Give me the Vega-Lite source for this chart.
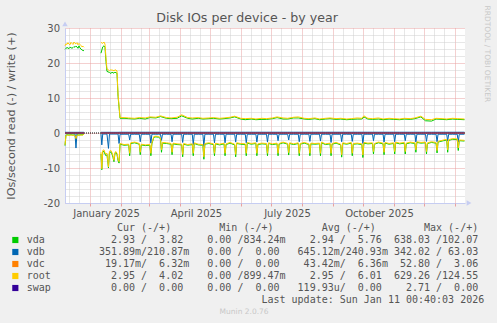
{
"$schema": "https://vega.github.io/schema/vega-lite/v6.json",
"background": "#F0F0F0",
"padding": {"left": 4, "top": 5, "right": 10, "bottom": 10},
"config": {"view": {"stroke": null}, "font": "DejaVu Sans"},
"title": {"text": "Disk IOs per device - by year", "anchor": "middle", "frame": "bounds", "offset": -29.3, "baseline": "alphabetic", "font": "DejaVu Sans", "fontSize": 12.6, "fontWeight": "normal", "color": "#555555"},
"spacing": 4,
"vconcat": [
{"spacing": 0, "hconcat": [
{"width": 1, "height": 1, "data": {"values": [{"v": 0}]}, "mark": {"type": "text", "text": ""}},
{"width": 400, "height": 175,
"view": {"fill": "#FFFFFF"},
"layer": [
{"data": {"values": [{"v": 0}]}, "mark": {"type": "rule", "color": "#000000", "strokeDash": [1, 1], "strokeWidth": 1}, "encoding": {"y": {"datum": 0, "type": "quantitative", "axis": null}}},
{"data": {"values": [
{"t":"2024-12-07T00:40","s":1,"rw":24.9,"aw":23.9,"rr":-3.4,"ar":-3.6,"br":-0.1,"bw":0.2,"cr":-0.04,"cw":0.01},
{"t":"2024-12-08T00:00","s":1,"rw":25.5,"aw":24.2,"rr":-0.7,"ar":-0.6,"br":-0.1,"bw":0.2},
{"t":"2024-12-09T00:00","s":1,"rw":25.3,"aw":24.4,"rr":-0.6,"ar":-0.5,"br":-0.1,"bw":0.2},
{"t":"2024-12-10T00:00","s":1,"rw":25.8,"aw":24.3,"rr":-0.6,"ar":-0.5,"br":-0.1,"bw":0.2},
{"t":"2024-12-11T00:00","s":1,"rw":25.4,"aw":24.1,"rr":-0.7,"ar":-0.6,"br":-0.1,"bw":0.2},
{"t":"2024-12-12T00:00","s":1,"rw":25.2,"aw":24.5,"rr":-0.6,"ar":-0.5,"br":-0.1,"bw":0.2},
{"t":"2024-12-13T00:00","s":1,"rw":25.9,"aw":24.4,"rr":-0.6,"ar":-0.5,"br":-0.1,"bw":0.2},
{"t":"2024-12-14T00:00","s":1,"rw":25.6,"aw":24.2,"rr":-0.6,"ar":-0.5,"br":-0.1,"bw":0.2},
{"t":"2024-12-15T00:00","s":1,"rw":25.3,"aw":24.4,"rr":-0.7,"ar":-0.6,"br":-0.1,"bw":0.2},
{"t":"2024-12-16T00:00","s":1,"rw":26.0,"aw":24.7,"rr":-0.6,"ar":-0.5,"br":-0.1,"bw":0.2},
{"t":"2024-12-17T00:00","s":1,"rw":25.6,"aw":24.5,"rr":-0.7,"ar":-0.6,"br":-0.1,"bw":0.2},
{"t":"2024-12-18T00:00","s":1,"rw":25.5,"aw":24.8,"rr":-1.6,"ar":-1.8,"br":-4.3,"bw":0.2},
{"t":"2024-12-19T00:00","s":1,"rw":25.8,"aw":24.6,"rr":-0.6,"ar":-0.5,"br":-0.1,"bw":0.2},
{"t":"2024-12-20T00:00","s":1,"rw":25.2,"aw":24.2,"rr":-0.6,"ar":-0.5,"br":-0.1,"bw":0.2},
{"t":"2024-12-21T00:00","s":1,"rw":25.6,"aw":24.9,"rr":-0.7,"ar":-0.6,"br":-0.1,"bw":0.2},
{"t":"2024-12-22T00:00","s":1,"rw":25.3,"aw":24.3,"rr":-0.6,"ar":-0.5,"br":-0.1,"bw":0.2},
{"t":"2024-12-23T00:00","s":1,"rw":25.0,"aw":24.0,"rr":-0.6,"ar":-0.5,"br":-0.1,"bw":0.2},
{"t":"2024-12-24T00:00","s":1,"rw":24.6,"aw":23.7,"rr":-0.6,"ar":-0.5,"br":-0.1,"bw":0.2},
{"t":"2024-12-25T00:00","s":1,"rw":24.8,"aw":23.6,"rr":-0.6,"ar":-0.5,"br":-0.1,"bw":0.2},
{"t":"2024-12-26T00:00","s":1,"rw":24.5,"aw":23.5,"rr":-0.3,"ar":-0.3,"br":-0.1,"bw":0.2,"cr":-0.04,"cw":0.01},
{"t":"2025-01-12T00:00","s":2,"rw":25.9,"aw":22.8,"rr":-5.5,"ar":-6.0,"br":-0.3,"bw":0.2,"cr":-0.04,"cw":0.01},
{"t":"2025-01-12T20:00","s":2,"rr":-10.2,"ar":-10.5,"br":-3.4},
{"t":"2025-01-13T18:00","s":2,"rw":25.6,"aw":24.6,"rr":-5.0,"ar":-5.4,"br":-0.3,"bw":0.2},
{"t":"2025-01-15T00:00","s":2,"rw":26.0,"aw":24.9,"rr":-4.8,"ar":-5.2,"br":-0.3,"bw":0.2},
{"t":"2025-01-16T00:00","s":2,"rw":25.4,"aw":24.5,"rr":-5.6,"ar":-6.0,"br":-0.3},
{"t":"2025-01-17T00:00","s":2,"rw":21.5,"aw":20.5,"rr":-6.0,"ar":-6.5,"br":-0.3},
{"t":"2025-01-18T00:00","s":2,"rw":18.3,"aw":17.6,"rr":-5.8,"ar":-6.2,"br":-0.3,"bw":0.2},
{"t":"2025-01-19T12:00","s":2,"rr":-9.7,"ar":-10.0,"br":-4.4},
{"t":"2025-01-20T12:00","s":2,"rw":17.8,"aw":17.3,"rr":-5.2,"ar":-5.6,"br":-0.3},
{"t":"2025-01-22T00:00","s":2,"rw":18.1,"aw":17.0,"rr":-5.0,"ar":-5.4,"br":-0.3,"bw":0.2,"cr":-0.04,"cw":0.01},
{"t":"2025-01-23T00:00","s":2,"rw":17.9,"aw":17.4,"rr":-5.6,"ar":-6.0},
{"t":"2025-01-24T00:00","s":2,"rw":18.0,"aw":17.2,"rr":-6.5,"ar":-7.0},
{"t":"2025-01-25T00:00","s":2,"rw":17.7,"aw":17.1,"rr":-7.8,"ar":-8.2},
{"t":"2025-01-26T00:00","s":2,"rw":18.1,"aw":17.4,"rr":-5.5,"ar":-5.8,"br":-0.3},
{"t":"2025-01-27T00:00","s":2,"rw":17.9,"aw":17.2,"rr":-5.3,"ar":-5.6},
{"t":"2025-01-28T00:00","s":2,"rw":17.8,"aw":17.1,"rr":-5.8,"ar":-6.1,"br":-0.3},
{"t":"2025-01-29T02:00","s":2,"rw":11.0,"aw":10.5,"rr":-7.5,"ar":-7.9,"br":-0.3,"bw":0.2},
{"t":"2025-01-30T02:00","s":2,"rr":-8.2,"ar":-8.6,"br":-3.0},
{"t":"2025-01-31T02:00","s":2,"rw":4.4,"aw":4.2,"rr":-3.0,"ar":-3.2,"br":-0.35,"bw":0.22},
{"t":"2025-02-04T02:00","s":2,"rw":4.4,"aw":4.2,"rr":-3.3,"ar":-3.5,"br":-0.35,"bw":0.22,"cr":-0.04,"cw":0.01},
{"t":"2025-02-08T17:00","s":2,"rw":4.3,"aw":4.1,"rr":-3.2,"ar":-3.4,"br":-0.35,"bw":0.22},
{"t":"2025-02-09T17:00","s":2,"rr":-5.8,"ar":-6.5,"br":-2.0},
{"t":"2025-02-10T17:00","s":2,"rr":-2.8,"ar":-3.0,"br":-0.35},
{"t":"2025-02-14T17:00","s":2,"rw":4.2,"aw":4.0,"rr":-2.6,"ar":-2.8,"br":-0.35,"bw":0.22,"cr":-0.04,"cw":0.01},
{"t":"2025-02-19T07:00","s":2,"rw":4.4,"aw":4.2,"rr":-3.0,"ar":-3.2,"br":-0.35,"bw":0.22},
{"t":"2025-02-20T07:00","s":2,"rr":-5.5,"ar":-6.2,"br":-2.5},
{"t":"2025-02-21T07:00","s":2,"rr":-3.2,"ar":-3.4,"br":-0.35},
{"t":"2025-02-25T07:00","s":2,"rw":4.3,"aw":4.0,"rr":-3.4,"ar":-3.6,"br":-0.35,"bw":0.22,"cr":-0.04,"cw":0.01},
{"t":"2025-03-01T22:00","s":2,"rw":4.6,"aw":4.4,"rr":-3.3,"ar":-3.5,"br":-0.35,"bw":0.22},
{"t":"2025-03-02T22:00","s":2,"rr":-5.8,"ar":-6.5,"br":-2.9},
{"t":"2025-03-03T22:00","s":2,"rr":-2.9,"ar":-3.1,"br":-0.35},
{"t":"2025-03-05T22:00","s":2,"rr":-1.0,"ar":-1.2,"br":-0.35},
{"t":"2025-03-07T22:00","s":2,"rw":4.5,"aw":4.3,"rr":-0.9,"ar":-1.1,"br":-0.35,"bw":0.22,"cr":-0.04,"cw":0.01},
{"t":"2025-03-10T12:00","s":2,"rr":-1.0,"ar":-1.2,"br":-0.35},
{"t":"2025-03-12T12:00","s":2,"rw":4.9,"aw":4.7,"rr":-1.4,"ar":-1.6,"br":-0.35,"bw":0.22},
{"t":"2025-03-13T12:00","s":2,"rr":-4.8,"ar":-5.5,"br":-2.1},
{"t":"2025-03-14T12:00","s":2,"rr":-2.7,"ar":-2.9,"br":-0.35},
{"t":"2025-03-18T12:00","s":2,"rw":4.4,"aw":4.2,"rr":-2.8,"ar":-3.0,"br":-0.35,"bw":0.22,"cr":-0.04,"cw":0.01},
{"t":"2025-03-23T02:00","s":2,"rw":4.3,"aw":4.1,"rr":-3.0,"ar":-3.2,"br":-0.35,"bw":0.22},
{"t":"2025-03-24T02:00","s":2,"rr":-5.5,"ar":-6.2,"br":-2.5},
{"t":"2025-03-25T02:00","s":2,"rr":-2.9,"ar":-3.1,"br":-0.35},
{"t":"2025-03-29T02:00","s":2,"rw":4.5,"aw":4.2,"rr":-3.1,"ar":-3.3,"br":-0.35,"bw":0.22,"cr":-0.04,"cw":0.01},
{"t":"2025-04-02T17:00","s":2,"rw":5.2,"aw":4.9,"rr":-3.2,"ar":-3.4,"br":-0.35,"bw":0.22},
{"t":"2025-04-03T17:00","s":2,"rr":-6.1,"ar":-6.8,"br":-2.7},
{"t":"2025-04-04T17:00","s":2,"rr":-3.0,"ar":-3.2,"br":-0.35},
{"t":"2025-04-08T17:00","s":2,"rw":4.4,"aw":4.2,"rr":-3.3,"ar":-3.5,"br":-0.35,"bw":0.22,"cr":-0.04,"cw":0.01},
{"t":"2025-04-13T07:00","s":2,"rw":4.3,"aw":4.0,"rr":-3.1,"ar":-3.3,"br":-0.35,"bw":0.22},
{"t":"2025-04-14T07:00","s":2,"rr":-5.8,"ar":-6.5,"br":-3.3},
{"t":"2025-04-15T07:00","s":2,"rr":-2.8,"ar":-3.0,"br":-0.35},
{"t":"2025-04-19T07:00","s":2,"rw":4.4,"aw":4.2,"rr":-3.2,"ar":-3.4,"br":-0.35,"bw":0.22,"cr":-0.04,"cw":0.01},
{"t":"2025-04-23T22:00","s":2,"rw":4.2,"aw":4.0,"rr":-3.3,"ar":-3.5,"br":-0.35,"bw":0.22},
{"t":"2025-04-24T22:00","s":2,"rr":-6.8,"ar":-7.5,"br":-3.8},
{"t":"2025-04-25T22:00","s":2,"rr":-3.0,"ar":-3.2,"br":-0.35},
{"t":"2025-04-29T22:00","s":2,"rw":4.3,"aw":4.1,"rr":-2.8,"ar":-3.0,"br":-0.35,"bw":0.22,"cr":-0.04,"cw":0.01},
{"t":"2025-05-04T12:00","s":2,"rw":4.4,"aw":4.2,"rr":-3.1,"ar":-3.3,"br":-0.35,"bw":0.22},
{"t":"2025-05-05T12:00","s":2,"rr":-5.8,"ar":-6.5,"br":-2.8},
{"t":"2025-05-06T12:00","s":2,"rr":-2.9,"ar":-3.1,"br":-0.35},
{"t":"2025-05-10T12:00","s":2,"rw":4.2,"aw":4.0,"rr":-3.2,"ar":-3.4,"br":-0.35,"bw":0.22,"cr":-0.04,"cw":0.01},
{"t":"2025-05-15T02:00","s":2,"rw":4.3,"aw":4.1,"rr":-2.9,"ar":-3.1,"br":-0.35,"bw":0.22},
{"t":"2025-05-16T02:00","s":2,"rr":-5.8,"ar":-6.5,"br":-2.8},
{"t":"2025-05-17T02:00","s":2,"rr":-3.1,"ar":-3.3,"br":-0.35},
{"t":"2025-05-21T02:00","s":2,"rw":4.5,"aw":4.3,"rr":-2.7,"ar":-2.9,"br":-0.35,"bw":0.22,"cr":-0.04,"cw":0.01},
{"t":"2025-05-25T17:00","s":2,"rw":4.8,"aw":4.6,"rr":-3.2,"ar":-3.4,"br":-0.35,"bw":0.22},
{"t":"2025-05-26T17:00","s":2,"rr":-6.1,"ar":-6.8,"br":-2.6},
{"t":"2025-05-27T17:00","s":2,"rr":-2.8,"ar":-3.0,"br":-0.35},
{"t":"2025-05-31T17:00","s":2,"rw":4.2,"aw":4.0,"rr":-3.0,"ar":-3.2,"br":-0.35,"bw":0.22,"cr":-0.04,"cw":0.01},
{"t":"2025-06-05T07:00","s":2,"rw":4.1,"aw":3.8,"rr":-3.1,"ar":-3.3,"br":-0.35,"bw":0.22},
{"t":"2025-06-06T07:00","s":2,"rr":-5.8,"ar":-6.5,"br":-2.8},
{"t":"2025-06-07T07:00","s":2,"rr":-2.7,"ar":-2.9,"br":-0.35},
{"t":"2025-06-11T07:00","s":2,"rw":4.2,"aw":4.0,"rr":-3.0,"ar":-3.2,"br":-0.35,"bw":0.22,"cr":-0.04,"cw":0.01},
{"t":"2025-06-15T22:00","s":2,"rw":4.0,"aw":3.8,"rr":-2.8,"ar":-3.0,"br":-0.35,"bw":0.22},
{"t":"2025-06-16T22:00","s":2,"rr":-5.8,"ar":-6.5,"br":-2.6},
{"t":"2025-06-17T22:00","s":2,"rr":-3.1,"ar":-3.3,"br":-0.35},
{"t":"2025-06-21T22:00","s":2,"rw":4.2,"aw":3.9,"rr":-2.9,"ar":-3.1,"br":-0.35,"bw":0.22,"cr":-0.04,"cw":0.01},
{"t":"2025-06-26T12:00","s":2,"rw":4.1,"aw":3.9,"rr":-3.0,"ar":-3.2,"br":-0.35,"bw":0.22},
{"t":"2025-06-27T12:00","s":2,"rr":-5.8,"ar":-6.5,"br":-2.6},
{"t":"2025-06-28T12:00","s":2,"rr":-2.8,"ar":-3.0,"br":-0.35},
{"t":"2025-07-02T12:00","s":2,"rw":4.3,"aw":4.1,"rr":-3.1,"ar":-3.3,"br":-0.35,"bw":0.22,"cr":-0.04,"cw":0.01},
{"t":"2025-07-07T02:00","s":2,"rw":4.6,"aw":4.4,"rr":-2.9,"ar":-3.1,"br":-0.35,"bw":0.22},
{"t":"2025-07-08T02:00","s":2,"rr":-5.8,"ar":-6.5,"br":-2.2},
{"t":"2025-07-09T02:00","s":2,"rr":-3.0,"ar":-3.2,"br":-0.35},
{"t":"2025-07-13T02:00","s":2,"rw":4.3,"aw":4.0,"rr":-2.6,"ar":-2.8,"br":-0.35,"bw":0.22,"cr":-0.04,"cw":0.01},
{"t":"2025-07-17T17:00","s":2,"rw":4.2,"aw":4.0,"rr":-3.0,"ar":-3.2,"br":-0.35,"bw":0.22},
{"t":"2025-07-18T17:00","s":2,"rr":-5.6,"ar":-6.3,"br":-2.0},
{"t":"2025-07-19T17:00","s":2,"rr":-2.8,"ar":-3.0,"br":-0.35},
{"t":"2025-07-23T17:00","s":2,"rw":4.5,"aw":4.3,"rr":-3.1,"ar":-3.3,"br":-0.35,"bw":0.22,"cr":-0.04,"cw":0.01},
{"t":"2025-07-28T07:00","s":2,"rw":4.6,"aw":4.3,"rr":-2.8,"ar":-3.0,"br":-0.35,"bw":0.22},
{"t":"2025-07-29T07:00","s":2,"rr":-5.8,"ar":-6.5,"br":-2.5},
{"t":"2025-07-30T07:00","s":2,"rr":-3.0,"ar":-3.2,"br":-0.35},
{"t":"2025-08-03T07:00","s":2,"rw":4.2,"aw":4.0,"rr":-2.7,"ar":-2.9,"br":-0.35,"bw":0.22,"cr":-0.04,"cw":0.01},
{"t":"2025-08-07T22:00","s":2,"rw":4.1,"aw":3.9,"rr":-3.1,"ar":-3.3,"br":-0.35,"bw":0.22},
{"t":"2025-08-08T22:00","s":2,"rr":-5.8,"ar":-6.5,"br":-2.4},
{"t":"2025-08-09T22:00","s":2,"rr":-2.9,"ar":-3.1,"br":-0.35},
{"t":"2025-08-13T22:00","s":2,"rw":4.3,"aw":4.1,"rr":-3.0,"ar":-3.2,"br":-0.35,"bw":0.22,"cr":-0.04,"cw":0.01},
{"t":"2025-08-18T12:00","s":2,"rw":4.0,"aw":3.8,"rr":-2.9,"ar":-3.1,"br":-0.35,"bw":0.22},
{"t":"2025-08-19T12:00","s":2,"rr":-5.8,"ar":-6.5,"br":-2.3},
{"t":"2025-08-20T12:00","s":2,"rr":-2.6,"ar":-2.8,"br":-0.35},
{"t":"2025-08-24T12:00","s":2,"rw":4.2,"aw":4.0,"rr":-3.1,"ar":-3.3,"br":-0.35,"bw":0.22,"cr":-0.04,"cw":0.01},
{"t":"2025-08-29T02:00","s":2,"rw":4.3,"aw":4.1,"rr":-2.9,"ar":-3.1,"br":-0.35,"bw":0.22},
{"t":"2025-08-30T02:00","s":2,"rr":-5.8,"ar":-6.5,"br":-2.7},
{"t":"2025-08-31T02:00","s":2,"rr":-3.0,"ar":-3.2,"br":-0.35},
{"t":"2025-09-04T02:00","s":2,"rw":4.1,"aw":3.9,"rr":-2.7,"ar":-2.9,"br":-0.35,"bw":0.22,"cr":-0.04,"cw":0.01},
{"t":"2025-09-08T17:00","s":2,"rw":4.2,"aw":4.0,"rr":-3.2,"ar":-3.4,"br":-0.35,"bw":0.22},
{"t":"2025-09-09T17:00","s":2,"rr":-6.2,"ar":-6.9,"br":-2.5},
{"t":"2025-09-10T17:00","s":2,"rr":-2.8,"ar":-3.0,"br":-0.35},
{"t":"2025-09-14T17:00","s":2,"rw":4.0,"aw":3.8,"rr":-3.0,"ar":-3.2,"br":-0.35,"bw":0.22,"cr":-0.04,"cw":0.01},
{"t":"2025-09-19T07:00","s":2,"rw":4.1,"aw":3.9,"rr":-2.7,"ar":-2.9,"br":-0.35,"bw":0.22},
{"t":"2025-09-20T07:00","s":2,"rr":-5.8,"ar":-6.5,"br":-2.4},
{"t":"2025-09-21T07:00","s":2,"rr":-3.0,"ar":-3.2,"br":-0.35},
{"t":"2025-09-25T07:00","s":2,"rw":4.3,"aw":4.0,"rr":-2.9,"ar":-3.1,"br":-0.35,"bw":0.22,"cr":-0.04,"cw":0.01},
{"t":"2025-09-29T22:00","s":2,"rw":4.2,"aw":4.0,"rr":-3.1,"ar":-3.3,"br":-0.35,"bw":0.22},
{"t":"2025-09-30T22:00","s":2,"rr":-6.3,"ar":-7.0,"br":-3.0},
{"t":"2025-10-01T22:00","s":2,"rw":4.9,"aw":4.6,"rr":-2.7,"ar":-2.9,"br":-0.35},
{"t":"2025-10-05T22:00","s":2,"rw":4.2,"aw":4.0,"rr":-2.9,"ar":-3.1,"br":-0.35,"bw":0.22,"cr":-0.04,"cw":0.01},
{"t":"2025-10-10T12:00","s":2,"rw":4.1,"aw":3.9,"rr":-2.8,"ar":-3.0,"br":-0.35,"bw":0.22},
{"t":"2025-10-11T12:00","s":2,"rr":-5.3,"ar":-6.0,"br":-2.2},
{"t":"2025-10-12T12:00","s":2,"rr":-3.0,"ar":-3.2,"br":-0.35},
{"t":"2025-10-16T12:00","s":2,"rw":4.3,"aw":4.0,"rr":-2.6,"ar":-2.8,"br":-0.35,"bw":0.22,"cr":-0.04,"cw":0.01},
{"t":"2025-10-21T02:00","s":2,"rw":4.0,"aw":3.8,"rr":-2.9,"ar":-3.1,"br":-0.35,"bw":0.22},
{"t":"2025-10-22T02:00","s":2,"rr":-5.5,"ar":-6.2,"br":-2.6},
{"t":"2025-10-23T02:00","s":2,"rr":-2.7,"ar":-2.9,"br":-0.35},
{"t":"2025-10-27T02:00","s":2,"rw":4.2,"aw":4.0,"rr":-3.0,"ar":-3.2,"br":-0.35,"bw":0.22,"cr":-0.04,"cw":0.01},
{"t":"2025-10-31T17:00","s":2,"rw":4.1,"aw":3.9,"rr":-2.8,"ar":-3.0,"br":-0.35,"bw":0.22},
{"t":"2025-11-01T17:00","s":2,"rr":-5.3,"ar":-6.0,"br":-2.5},
{"t":"2025-11-02T17:00","s":2,"rr":-2.6,"ar":-2.8,"br":-0.35},
{"t":"2025-11-06T17:00","s":2,"rw":4.0,"aw":3.8,"rr":-2.9,"ar":-3.1,"br":-0.35,"bw":0.22,"cr":-0.04,"cw":0.01},
{"t":"2025-11-11T07:00","s":2,"rw":4.2,"aw":4.0,"rr":-2.7,"ar":-2.9,"br":-0.35,"bw":0.22},
{"t":"2025-11-12T07:00","s":2,"rr":-5.3,"ar":-6.0,"br":-2.2},
{"t":"2025-11-13T07:00","s":2,"rr":-2.9,"ar":-3.1,"br":-0.35},
{"t":"2025-11-17T07:00","s":2,"rw":4.1,"aw":3.9,"rr":-2.6,"ar":-2.8,"br":-0.35,"bw":0.22,"cr":-0.04,"cw":0.01},
{"t":"2025-11-21T22:00","s":2,"rw":4.3,"aw":4.1,"rr":-2.8,"ar":-3.0,"br":-0.35,"bw":0.22},
{"t":"2025-11-22T22:00","s":2,"rr":-4.8,"ar":-5.5,"br":-2.6},
{"t":"2025-11-23T22:00","s":2,"rr":-2.5,"ar":-2.7,"br":-0.35},
{"t":"2025-11-27T22:00","s":2,"rw":4.8,"aw":4.6,"rr":-2.7,"ar":-2.9,"br":-0.35,"bw":0.22,"cr":-0.04,"cw":0.01},
{"t":"2025-12-02T12:00","s":2,"rw":3.9,"aw":3.5,"rr":-2.6,"ar":-2.8,"br":-0.35,"bw":0.22},
{"t":"2025-12-03T12:00","s":2,"rr":-5.3,"ar":-6.0,"br":-2.4},
{"t":"2025-12-04T12:00","s":2,"rr":-2.8,"ar":-3.0,"br":-0.35},
{"t":"2025-12-08T12:00","s":2,"rw":3.8,"aw":3.4,"rr":-2.5,"ar":-2.7,"br":-0.35,"bw":0.22,"cr":-0.04,"cw":0.01},
{"t":"2025-12-13T02:00","s":2,"rw":4.2,"aw":4.0,"rr":-2.7,"ar":-2.9,"br":-0.35,"bw":0.22},
{"t":"2025-12-14T02:00","s":2,"rr":-5.0,"ar":-5.7,"br":-2.5},
{"t":"2025-12-15T02:00","s":2,"rr":-2.4,"ar":-2.6,"br":-0.35},
{"t":"2025-12-19T02:00","s":2,"rw":4.1,"aw":3.9,"rr":-2.1,"ar":-2.3,"br":-0.35,"bw":0.22,"cr":-0.04,"cw":0.01},
{"t":"2025-12-23T17:00","s":2,"rw":4.0,"aw":3.8,"rr":-1.8,"ar":-2.0,"br":-0.35,"bw":0.22},
{"t":"2025-12-24T17:00","s":2,"rr":-4.8,"ar":-5.5,"br":-2.3},
{"t":"2025-12-25T17:00","s":2,"rr":-1.9,"ar":-2.1,"br":-0.35},
{"t":"2025-12-29T17:00","s":2,"rw":4.2,"aw":4.0,"rr":-1.6,"ar":-1.8,"br":-0.35,"bw":0.22,"cr":-0.04,"cw":0.01},
{"t":"2026-01-03T07:00","s":2,"rw":4.1,"aw":3.9,"rr":-1.7,"ar":-1.9,"br":-0.35,"bw":0.22},
{"t":"2026-01-04T07:00","s":2,"rr":-4.3,"ar":-5.0,"br":-2.6},
{"t":"2026-01-05T07:00","s":2,"rr":-2.0,"ar":-2.2,"br":-0.35},
{"t":"2026-01-10T12:00","s":2,"rw":4.0,"aw":3.8,"rr":-2.1,"ar":-2.3,"br":-0.35,"bw":0.22,"cr":-0.04,"cw":0.01}
]},
"transform": [
{"fold": ["aw", "ar", "bw", "br", "cw", "cr", "rw", "rr"], "as": ["key", "v"]},
{"filter": "isValid(datum.v)"}
],
"encoding": {
"x": {"field": "t", "type": "temporal",
"scale": {"domain": [{"year": 2024, "month": 12, "date": 7, "hours": 0, "minutes": 40}, {"year": 2026, "month": 1, "date": 11, "hours": 0, "minutes": 40}]},
"axis": {
"orient": "bottom",
"title": null,
"values": [{"year": 2025, "month": 1, "date": 17}, {"year": 2025, "month": 4, "date": 17}, {"year": 2025, "month": 7, "date": 17}, {"year": 2025, "month": 10, "date": 17}],
"format": "%B %Y",
"grid": false,
"ticks": false,
"tickSize": 0,
"labelFont": "DejaVu Sans", "labelFontSize": 10, "labelColor": "#555555",
"labelPadding": 5, "labelOverlap": false, "labelFlush": false, "labelBound": false,
"domainColor": "#C6CDF2", "domainWidth": 1
}},
"y": {"field": "v", "type": "quantitative",
"scale": {"domain": [-20, 30], "nice": false, "zero": false},
"axis": {
"values": [-20, -18, -16, -14, -12, -10, -8, -6, -4, -2, 0, 2, 4, 6, 8, 10, 12, 14, 16, 18, 20, 22, 24, 26, 28, 30],
"title": "IOs/second read (-) / write (+)",
"titleFont": "DejaVu Sans", "titleFontSize": 11.2, "titleFontWeight": "normal", "titleColor": "#555555", "titlePadding": 26.5,
"grid": true,
"gridColor": {"condition": {"test": "datum.value % 10 == 0", "value": "#E9A0A0"}, "value": "#CFCFCF"},
"gridDash": [1, 1],
"ticks": false,
"labelExpr": "datum.value % 10 == 0 ? '' + datum.value : ''",
"labelFont": "DejaVu Sans", "labelFontSize": 10, "labelColor": "#555555", "labelPadding": 5.5, "labelOverlap": false,
"domainColor": "#C6CDF2", "domainWidth": 1
}},
"detail": [{"field": "key", "type": "nominal"}, {"field": "s", "type": "nominal"}]
},
"layer": [
{"transform": [{"filter": {"field": "key", "oneOf": ["aw", "ar"]}}], "mark": {"type": "line", "color": "#00CC00", "strokeWidth": 1}},
{"transform": [{"filter": {"field": "key", "oneOf": ["bw", "br"]}}], "mark": {"type": "line", "color": "#0066B3", "strokeWidth": 1}},
{"transform": [{"filter": {"field": "key", "oneOf": ["cw", "cr"]}}], "mark": {"type": "line", "color": "#FF8000", "strokeWidth": 1}},
{"transform": [{"filter": {"field": "key", "oneOf": ["rw", "rr"]}}], "mark": {"type": "line", "color": "#FFCC00", "strokeWidth": 1}}
]
},
{"data": {"values": [
{"t": "2024-12-07T00:40", "s": 1, "v": 0},
{"t": "2024-12-26T00:00", "s": 1, "v": 0},
{"t": "2025-01-12T00:00", "s": 2, "v": 0},
{"t": "2026-01-10T12:00", "s": 2, "v": 0}
]},
"mark": {"type": "line", "color": "#330099", "strokeWidth": 1},
"encoding": {
"x": {"field": "t", "type": "temporal", "axis": {
"orient": "bottom",
"title": null,
"values": [
{"year": 2024, "month": 12, "date": 11}, {"year": 2024, "month": 12, "date": 21},
{"year": 2025, "month": 1, "date": 1}, {"year": 2025, "month": 1, "date": 11}, {"year": 2025, "month": 1, "date": 21},
{"year": 2025, "month": 2, "date": 1}, {"year": 2025, "month": 2, "date": 11}, {"year": 2025, "month": 2, "date": 21},
{"year": 2025, "month": 3, "date": 1}, {"year": 2025, "month": 3, "date": 11}, {"year": 2025, "month": 3, "date": 21},
{"year": 2025, "month": 4, "date": 1}, {"year": 2025, "month": 4, "date": 11}, {"year": 2025, "month": 4, "date": 21},
{"year": 2025, "month": 5, "date": 1}, {"year": 2025, "month": 5, "date": 11}, {"year": 2025, "month": 5, "date": 21},
{"year": 2025, "month": 6, "date": 1}, {"year": 2025, "month": 6, "date": 11}, {"year": 2025, "month": 6, "date": 21},
{"year": 2025, "month": 7, "date": 1}, {"year": 2025, "month": 7, "date": 11}, {"year": 2025, "month": 7, "date": 21},
{"year": 2025, "month": 8, "date": 1}, {"year": 2025, "month": 8, "date": 11}, {"year": 2025, "month": 8, "date": 21},
{"year": 2025, "month": 9, "date": 1}, {"year": 2025, "month": 9, "date": 11}, {"year": 2025, "month": 9, "date": 21},
{"year": 2025, "month": 10, "date": 1}, {"year": 2025, "month": 10, "date": 11}, {"year": 2025, "month": 10, "date": 21},
{"year": 2025, "month": 11, "date": 1}, {"year": 2025, "month": 11, "date": 11}, {"year": 2025, "month": 11, "date": 21},
{"year": 2025, "month": 12, "date": 1}, {"year": 2025, "month": 12, "date": 11}, {"year": 2025, "month": 12, "date": 21},
{"year": 2026, "month": 1, "date": 1}
],
"grid": true,
"gridColor": {"condition": {"test": "date(datum.value) == 1", "value": "#E9A0A0"}, "value": "#CFCFCF"},
"gridDash": [1, 1],
"ticks": true,
"tickSize": 3,
"tickColor": {"condition": {"test": "date(datum.value) == 1", "value": "#E9A0A0"}, "value": "transparent"},
"labels": false,
"domain": false
}},
"y": {"field": "v", "type": "quantitative", "axis": {"orient": "right", "title": "RRDTOOL / TOBI OETIKER", "titleAngle": 90, "titleAlign": "left", "titleBaseline": "alphabetic", "titleX": 19, "titleY": -23, "titleFont": "DejaVu Sans", "titleFontSize": 7.5, "titleFontWeight": "normal", "titleColor": "#C8C8C8", "labels": false, "ticks": false, "domain": false, "grid": false}},
"detail": {"field": "s", "type": "nominal"}
}},
{"data": {"values": [{"a": "y"}]},
"mark": {"type": "point", "shape": "triangle-up", "filled": true, "size": 30, "color": "#C6CDF2", "opacity": 1},
"encoding": {
"x": {"datum": {"year": 2024, "month": 12, "date": 7, "hours": 0, "minutes": 40}, "type": "temporal", "axis": null},
"y": {"datum": 31.15, "type": "quantitative", "axis": null}
}},
{"data": {"values": [{"a": "x"}]},
"mark": {"type": "point", "shape": "triangle-right", "filled": true, "size": 30, "color": "#C6CDF2", "opacity": 1},
"encoding": {
"x": {"datum": {"year": 2026, "month": 1, "date": 15, "hours": 0, "minutes": 40}, "type": "temporal", "axis": null},
"y": {"datum": -20, "type": "quantitative", "axis": null}
}}
],
"resolve": {"axis": {"x": "independent", "y": "independent"}}
}
]},
{"width": 34, "height": 84,
"data": {"values": [
{"row": "hdr", "txt": "\u200b\u00a0\u00a0\u00a0\u00a0\u00a0\u00a0\u00a0\u00a0\u00a0\u00a0\u00a0\u00a0\u00a0\u00a0\u00a0Cur\u00a0(-/+)\u00a0\u00a0\u00a0\u00a0\u00a0\u00a0\u00a0\u00a0Min\u00a0(-/+)\u00a0\u00a0\u00a0\u00a0\u00a0\u00a0\u00a0\u00a0Avg\u00a0(-/+)\u00a0\u00a0\u00a0\u00a0\u00a0\u00a0\u00a0\u00a0Max\u00a0(-/+)"},
{"row": "vda", "dev": "vda", "txt": "vda\u00a0\u00a0\u00a0\u00a0\u00a0\u00a0\u00a0\u00a0\u00a0\u00a0\u00a02.93\u00a0/\u00a0\u00a03.82\u00a0\u00a0\u00a0\u00a00.00\u00a0/834.24m\u00a0\u00a0\u00a0\u00a02.94\u00a0/\u00a0\u00a05.76\u00a0\u00a0638.03\u00a0/102.07"},
{"row": "vdb", "dev": "vdb", "txt": "vdb\u00a0\u00a0\u00a0\u00a0\u00a0\u00a0\u00a0\u00a0\u00a0351.89m/210.87m\u00a0\u00a0\u00a00.00\u00a0/\u00a0\u00a00.00\u00a0\u00a0\u00a0645.12m/240.93m\u00a0342.02\u00a0/\u00a063.03"},
{"row": "vdc", "dev": "vdc", "txt": "vdc\u00a0\u00a0\u00a0\u00a0\u00a0\u00a0\u00a0\u00a0\u00a0\u00a019.17m/\u00a0\u00a06.32m\u00a0\u00a0\u00a00.00\u00a0/\u00a0\u00a00.00\u00a0\u00a0\u00a0\u00a043.42m/\u00a0\u00a06.36m\u00a0\u00a052.80\u00a0/\u00a0\u00a03.06"},
{"row": "root", "dev": "root", "txt": "root\u00a0\u00a0\u00a0\u00a0\u00a0\u00a0\u00a0\u00a0\u00a0\u00a02.95\u00a0/\u00a0\u00a04.02\u00a0\u00a0\u00a0\u00a00.00\u00a0/899.47m\u00a0\u00a0\u00a0\u00a02.95\u00a0/\u00a0\u00a06.01\u00a0\u00a0629.26\u00a0/124.55"},
{"row": "swap", "dev": "swap", "txt": "swap\u00a0\u00a0\u00a0\u00a0\u00a0\u00a0\u00a0\u00a0\u00a0\u00a00.00\u00a0/\u00a0\u00a00.00\u00a0\u00a0\u00a0\u00a00.00\u00a0/\u00a0\u00a00.00\u00a0\u00a0\u00a0119.93u/\u00a0\u00a00.00\u00a0\u00a0\u00a0\u00a02.71\u00a0/\u00a0\u00a00.00"},
{"row": "upd", "txt": "\u200b\u00a0\u00a0\u00a0\u00a0\u00a0\u00a0\u00a0\u00a0\u00a0\u00a0\u00a0\u00a0\u00a0\u00a0\u00a0\u00a0\u00a0\u00a0\u00a0\u00a0\u00a0\u00a0\u00a0\u00a0\u00a0\u00a0\u00a0\u00a0\u00a0\u00a0\u00a0\u00a0\u00a0\u00a0\u00a0\u00a0\u00a0\u00a0\u00a0Last\u00a0update:\u00a0Sun\u00a0Jan\u00a011\u00a000:40:03\u00a02026"}
]},
"encoding": {
"y": {"field": "row", "type": "nominal", "sort": null, "scale": {"domain": ["hdr", "vda", "vdb", "vdc", "root", "swap", "upd"], "paddingInner": 0, "paddingOuter": 0}, "axis": null}
},
"layer": [
{"transform": [{"filter": "isValid(datum.dev)"}],
"mark": {"type": "square", "size": 38, "opacity": 1},
"encoding": {
"x": {"datum": "sw", "type": "nominal", "scale": {"type": "point", "domain": ["sw", "tx"], "padding": 1.33}, "axis": null},
"color": {"field": "dev", "type": "nominal", "scale": {"domain": ["vda", "vdb", "vdc", "root", "swap"], "range": ["#00CC00", "#0066B3", "#FF8000", "#FFCC00", "#330099"]}, "legend": null}
}},
{"mark": {"type": "text", "align": "left", "baseline": "middle", "font": "DejaVu Sans Mono", "fontSize": 10, "color": "#555555"},
"encoding": {
"x": {"datum": "tx", "type": "nominal"},
"text": {"field": "txt"}
}}
],
"title": {"text": "Munin 2.0.76", "orient": "bottom", "anchor": "middle", "frame": "bounds", "baseline": "top", "offset": 2, "font": "DejaVu Sans", "fontSize": 7.5, "fontWeight": "normal", "color": "#C8C8C8"}
}
]
}
